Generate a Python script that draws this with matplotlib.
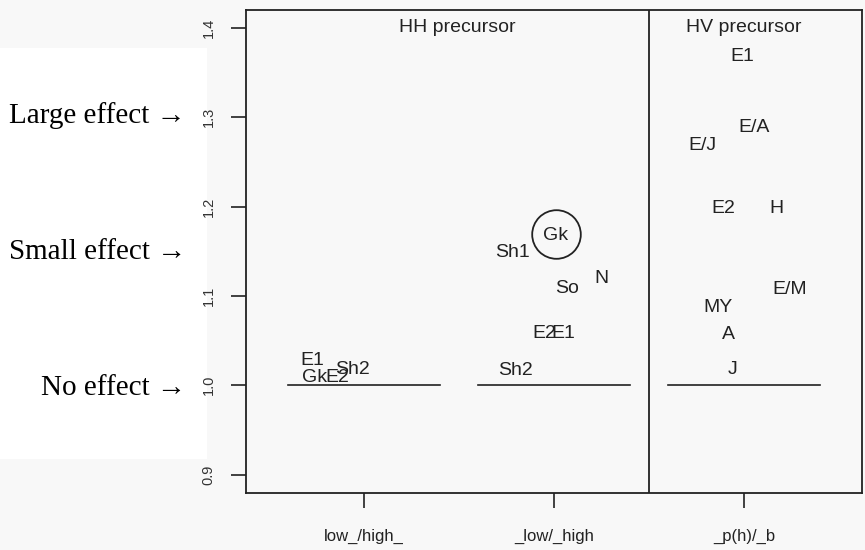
import matplotlib.pyplot as plt
from matplotlib.patches import Rectangle
from matplotlib.transforms import ScaledTranslation

# categories on the x axis and panel titles
group_labels = ['low_/high_', '_low/_high', '_p(h)/_b']
group_pos = [1, 2, 3]
panel_titles = ['HH precursor', 'HV precursor']
panel_title_x = [1.49, 3.0]

# labels for each group (text placed at x, y)
g1_labels = ['E1', 'Gk', 'E2', 'Sh2']
g1_x = [0.73, 0.74, 0.86, 0.94]
g1_y = [1.028, 1.009, 1.009, 1.018]

g2_labels = ['Gk', 'Sh1', 'N', 'So', 'E2', 'E1', 'Sh2']
g2_x = [2.01, 1.78, 2.25, 2.07, 1.95, 2.05, 1.80]
g2_y = [1.168, 1.149, 1.120, 1.108, 1.058, 1.058, 1.017]

g3_labels = ['E1', 'E/A', 'E/J', 'E2', 'H', 'E/M', 'MY', 'A', 'J']
g3_x = [2.99, 3.05, 2.78, 2.89, 3.17, 3.24, 2.86, 2.92, 2.94]
g3_y = [1.368, 1.288, 1.268, 1.198, 1.198, 1.107, 1.087, 1.057, 1.018]

# circled label
circle_x, circle_y = 2.013, 1.169

# effect annotations on the left
effect_labels = ['Large effect \u2192', 'Small effect \u2192', 'No effect \u2192']
effect_y = [1.305, 1.153, 1.0]

yticks = [0.9, 1.0, 1.1, 1.2, 1.3, 1.4]

bg = '#f8f8f8'
ink = '#222222'

fig = plt.figure(figsize=(8.65, 5.5), dpi=100, facecolor=bg)
# white patch behind the effect labels
fig.patches.append(Rectangle((0, 1 - 459 / 550), 207 / 865, (459 - 48) / 550,
                             transform=fig.transFigure, facecolor='white',
                             edgecolor='none', zorder=-5))

ax = fig.add_axes([246 / 865, 1 - 493 / 550, (862 - 246) / 865, (493 - 10) / 550])
ax.set_facecolor(bg)
ax.set_xlim(0.38, 3.62)
ax.set_ylim(0.8794, 1.420)

for s in ax.spines.values():
    s.set_linewidth(1.3)
    s.set_color(ink)
ax.axvline(2.5, color=ink, lw=1.3)

# "no effect" reference lines
for g in group_pos:
    ax.plot([g - 0.4, g + 0.4], [1.0, 1.0], color=ink, lw=1.2)

for labels, xs, ys in [(g1_labels, g1_x, g1_y), (g2_labels, g2_x, g2_y), (g3_labels, g3_x, g3_y)]:
    for lab, x, y in zip(labels, xs, ys):
        ax.text(x, y, lab, ha='center', va='center', fontsize=14,
                family='Liberation Sans', color=ink)

ax.plot(circle_x, circle_y, marker='o', ms=35, mfc='none', mec=ink, mew=1.3)

for t, x in zip(panel_titles, panel_title_x):
    ax.text(x, 1.4, t, ha='center', va='center', fontsize=14,
            family='Liberation Sans', color=ink)

ax.set_xticks(group_pos)
ax.set_xticklabels(group_labels, fontsize=12, family='Liberation Sans', color=ink)
ax.set_yticks(yticks)
ax.set_yticklabels([f'{v:.1f}' for v in yticks], rotation=90, va='center',
                   fontsize=10.5, family='Liberation Sans', color='#333333')
ax.tick_params(axis='x', length=11, width=1.2, pad=15, color=ink)
ax.tick_params(axis='y', length=11, width=1.2, pad=11, color=ink)

# baseline sits ~10px under the label's middle
shift = ScaledTranslation(0, -10 / 100, fig.dpi_scale_trans)
for t, y in zip(effect_labels, effect_y):
    ty = ax.transData.transform((0, y))[1]
    fy = fig.transFigure.inverted().transform((0, ty))[1]
    fig.text(186 / 865, fy, t, ha='right', va='baseline', fontsize=21,
             family=['Liberation Serif', 'DejaVu Serif'], color='black',
             transform=fig.transFigure + shift)

fig.savefig('out.png', dpi=100, facecolor=bg)
